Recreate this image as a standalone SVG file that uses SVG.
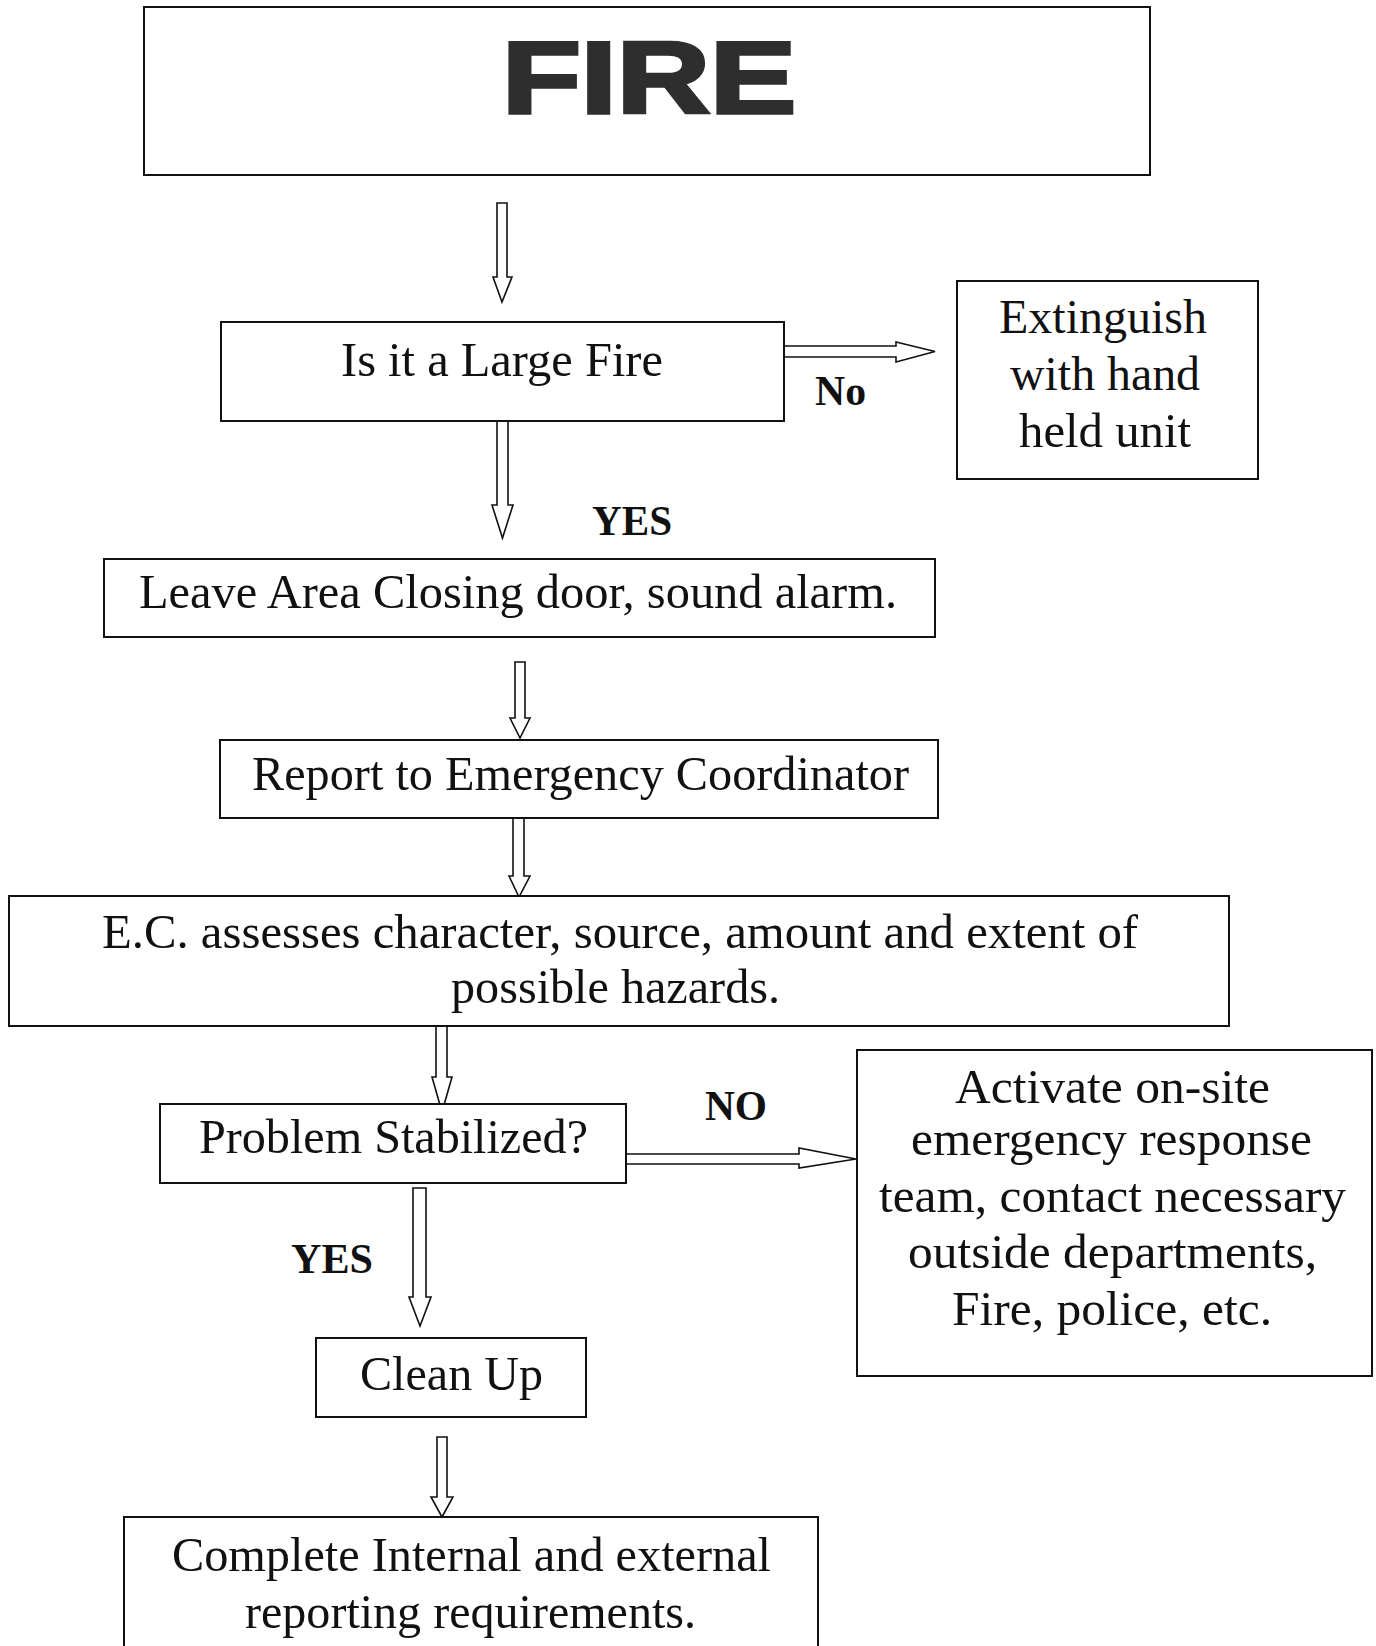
<svg xmlns="http://www.w3.org/2000/svg" width="1376" height="1646" viewBox="0 0 1376 1646">
<style>
.box{fill:#fff;stroke:#111;stroke-width:2}
.arr{fill:#fff;stroke:#111;stroke-width:1.6;stroke-linejoin:miter}
.t{font-family:"Liberation Serif","Times New Roman",serif;font-size:48px;fill:#111}
.lb{font-family:"Liberation Serif","Times New Roman",serif;font-size:42px;font-weight:bold;fill:#111}
.fire{font-family:"Liberation Sans",Arial,sans-serif;font-size:102px;font-weight:bold;fill:#2e2e2e;stroke:#2e2e2e;stroke-width:3.5}
</style>
<rect width="1376" height="1646" fill="#fff"/>
<g id="connectors">
<path class="arr" d="M497 203H507V277H512L502 302L493 277H497Z"/>
<path class="arr" d="M497 421H508V505H513L502.5 538L492 505H497Z"/>
<path class="arr" d="M782 346H896V342L935 351.5L896 362V357H782Z"/>
<path class="arr" d="M515 662H525V718H530L520 738L510 718H515Z"/>
<path class="arr" d="M513 818H524V876H530L519 897L509 876H513Z"/>
<path class="arr" d="M436 974H447V1077H452L442 1112L432 1077H436Z"/>
<path class="arr" d="M626 1154H799V1148L856 1159L799 1168V1164H626Z"/>
<path class="arr" d="M413 1188H426V1297H431L420 1326L409 1297H413Z"/>
<path class="arr" d="M437 1437H447V1497H453L442 1517L431 1497H437Z"/>
</g>
<g id="node-fire">
<rect class="box" x="144" y="7" width="1006" height="168"/>
<text class="fire" x="502" y="113" textLength="294" lengthAdjust="spacingAndGlyphs">FIRE</text>
</g>
<g id="node-large">
<rect class="box" x="221" y="322" width="563" height="99"/>
<text class="t" x="341" y="376" textLength="322" lengthAdjust="spacingAndGlyphs">Is it a Large Fire</text>
</g>
<g id="node-extinguish">
<rect class="box" x="957" y="281" width="301" height="198"/>
<text class="t" x="999" y="333" textLength="208" lengthAdjust="spacingAndGlyphs">Extinguish</text>
<text class="t" x="1010" y="390" textLength="190" lengthAdjust="spacingAndGlyphs">with hand</text>
<text class="t" x="1019" y="447" textLength="172" lengthAdjust="spacingAndGlyphs">held unit</text>
</g>
<g id="node-leave">
<rect class="box" x="104" y="559" width="831" height="78"/>
<text class="t" x="139" y="608" textLength="758" lengthAdjust="spacingAndGlyphs">Leave Area Closing door, sound alarm.</text>
</g>
<g id="node-report">
<rect class="box" x="220" y="740" width="718" height="78"/>
<text class="t" x="252" y="790" textLength="657" lengthAdjust="spacingAndGlyphs">Report to Emergency Coordinator</text>
</g>
<g id="node-ec">
<rect class="box" x="9" y="896" width="1220" height="130"/>
<text class="t" x="102" y="948" textLength="1036" lengthAdjust="spacingAndGlyphs">E.C. assesses character, source, amount and extent of</text>
<text class="t" x="451" y="1003" textLength="329" lengthAdjust="spacingAndGlyphs">possible hazards.</text>
</g>
<g id="node-problem">
<rect class="box" x="160" y="1104" width="466" height="79"/>
<text class="t" x="199" y="1153" textLength="389" lengthAdjust="spacingAndGlyphs">Problem Stabilized?</text>
</g>
<g id="node-activate">
<rect class="box" x="857" y="1050" width="515" height="326"/>
<text class="t" x="955" y="1103" textLength="315" lengthAdjust="spacingAndGlyphs">Activate on-site</text>
<text class="t" x="911" y="1155" textLength="401" lengthAdjust="spacingAndGlyphs">emergency response</text>
<text class="t" x="879" y="1212" textLength="467" lengthAdjust="spacingAndGlyphs">team, contact necessary</text>
<text class="t" x="908" y="1268" textLength="409" lengthAdjust="spacingAndGlyphs">outside departments,</text>
<text class="t" x="952" y="1325" textLength="320" lengthAdjust="spacingAndGlyphs">Fire, police, etc.</text>
</g>
<g id="node-cleanup">
<rect class="box" x="316" y="1338" width="270" height="79"/>
<text class="t" x="360" y="1390" textLength="183" lengthAdjust="spacingAndGlyphs">Clean Up</text>
</g>
<g id="node-complete">
<rect class="box" x="124" y="1517" width="694" height="150"/>
<text class="t" x="172" y="1571" textLength="599" lengthAdjust="spacingAndGlyphs">Complete Internal and external</text>
<text class="t" x="245" y="1628" textLength="451" lengthAdjust="spacingAndGlyphs">reporting requirements.</text>
</g>
<g id="labels">
<text class="lb" x="815" y="405" textLength="51" lengthAdjust="spacingAndGlyphs">No</text>
<text class="lb" x="592" y="535" textLength="80" lengthAdjust="spacingAndGlyphs">YES</text>
<text class="lb" x="705" y="1120" textLength="62" lengthAdjust="spacingAndGlyphs">NO</text>
<text class="lb" x="291" y="1273" textLength="82" lengthAdjust="spacingAndGlyphs">YES</text>
</g>
</svg>
